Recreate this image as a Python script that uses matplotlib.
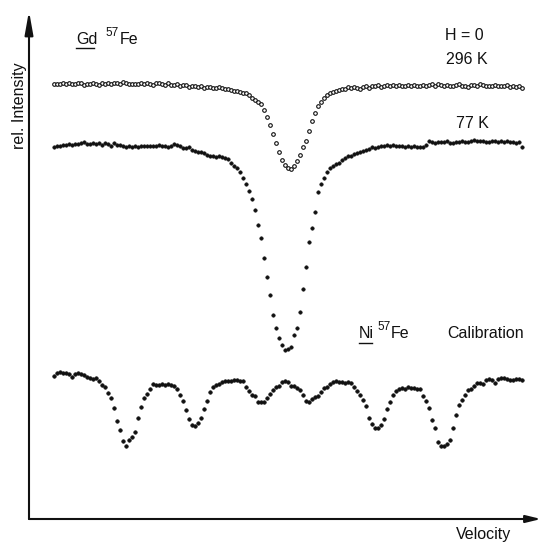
import numpy as np
import matplotlib
matplotlib.use("Agg")
import matplotlib.pyplot as plt
from matplotlib.lines import Line2D

plt.rcParams['font.family'] = ['Liberation Sans', 'DejaVu Sans']

# ---- data: absorption level (larger = deeper), one value per channel ----
gd_296K = [84, 84, 83.5, 83, 84, 82.5, 84, 84, 83, 82.5, 85, 84, 83.5, 83, 84, 84.5, 83, 84, 82.5, 84,
           83, 82.5, 83.5, 82, 83, 84, 83.5, 84, 84, 83, 84, 82.5, 84, 85, 83, 83, 84, 85, 83, 84.5,
           85, 84, 86, 85, 84.5, 86.5, 85.5, 86, 87, 85.5, 87.5, 87, 86.5, 88, 87.5, 87, 88, 89, 89, 89.5,
           90.5, 91, 92, 92.5, 93, 95, 97.5, 100, 102, 104, 110, 117, 125, 134, 143, 152, 160, 164.5, 167.5, 169,
           166, 161, 154.5, 147, 140.5, 131, 121, 112.5, 106, 101.5, 98, 95, 93, 91.5, 91, 90, 89, 88.5, 87, 87.5,
           86.5, 88, 88.5, 87, 86, 87.5, 85.5, 86, 85, 86.5, 86, 84.5, 86, 85, 86, 84.5, 85.5, 86, 84.5, 86,
           85, 86, 85.5, 84.5, 85.5, 84.5, 84, 85.5, 84, 85, 85.5, 84.5, 85.5, 86, 85, 84, 85.5, 86, 87, 85,
           84.5, 85.5, 84, 85, 86, 85.5, 86, 84.5, 86, 85.5, 86, 85, 86.5, 86, 87, 86, 87.5]

gd_77K = [147, 146, 145.5, 144.5, 145, 144, 145, 143.5, 144, 142.5, 142, 143.5, 144, 142.5, 144, 143, 144.5, 142.5, 144, 145.5,
          143, 145, 144.5, 146, 146.5, 146, 146.5, 146, 146.5, 145.5, 146, 146, 145.5, 145.5, 146, 145, 145.5, 146, 147, 145.5,
          144, 144.5, 146, 147.5, 148, 147, 149.5, 150.5, 152, 151.5, 153, 155, 156, 155.5, 156.5, 156, 157, 157.5, 159, 163,
          166, 168, 172, 178, 184, 191, 199, 210, 225, 238, 258, 277, 295, 315, 328, 338, 344.5, 350, 348.5, 347,
          335, 328, 312, 289, 267, 242, 228, 212, 192, 184, 178, 172, 168, 166, 164, 162.5, 159.5, 158, 156, 155.5,
          154, 153, 152, 151, 149.5, 148.5, 147, 147.5, 146.5, 145.5, 146, 145, 145.5, 145, 146, 145.5, 146, 146.5, 146, 146.5,
          146, 147, 146.5, 147, 145, 141, 142, 142.5, 142, 141.5, 142, 141, 142.5, 143, 141.5, 142, 141, 141.5, 142, 141,
          140, 140.5, 141, 140.5, 141.5, 142, 140.5, 141, 142, 141, 142, 140.5, 142, 141.5, 143, 142, 147]

ni_calibration = [376, 373, 372, 372.5, 373, 374, 376.5, 374, 373, 373.5, 374.5, 377, 378, 379, 378, 381, 384.5, 387, 393, 398,
                  408, 421, 430, 441, 446, 440, 437, 432, 418, 407, 398, 394, 389, 384, 385, 384.5, 384, 384.5, 384, 385,
                  386, 389, 395, 401, 410, 419, 425, 426, 423, 418, 409, 401, 392, 387, 385, 384, 381.5, 381, 381, 381,
                  380, 380, 380.5, 381, 387, 391, 394.5, 396, 402, 402, 401.5, 398, 394, 390, 387, 386, 382, 381, 382, 386,
                  386, 387.5, 390, 395, 401, 402, 399, 397, 396, 392, 388, 386.5, 384, 381.5, 381, 382, 382, 382.5, 382, 383,
                  387, 391, 395, 400, 406, 418, 424, 428, 428, 425, 419, 409, 402, 395, 391, 388.5, 388, 389, 387, 388,
                  388, 388.5, 389, 396, 401, 408, 420, 428, 442, 446, 446, 444, 440, 428, 415, 405, 400, 395, 390, 388.5,
                  386, 383, 383, 384, 380, 379, 380, 383, 378.5, 378, 378, 379, 379.5, 380, 379, 379, 380]

REF = 544.0   # converts absorption level into relative intensity (upwards)

W, H = 543, 544
fig = plt.figure(figsize=(W / 100, H / 100), dpi=100)
fig.patch.set_facecolor('white')

# axes frame: x-axis line at px 519, y-axis line at px 29, arrow tips at px 541 / 11
ax = fig.add_axes([29 / W, 1 - 519 / H, (541 - 29) / W, (519 - 11) / H])
ax.set_xlim(-25 / 3, 162.33)
ax.set_ylim(25, 533)
ax.axis('off')

ink = '#111111'

def plot_series(vals, **kw):
    v = np.asarray(vals, dtype=float)
    ch = np.arange(len(v))
    ax.plot(ch, REF - v, linestyle='none', clip_on=False, **kw)

plot_series(gd_296K, marker='o', markersize=2.6, markerfacecolor='white',
            markeredgecolor=ink, markeredgewidth=0.8)
plot_series(gd_77K, marker='o', markersize=2.5, markerfacecolor=ink,
            markeredgecolor=ink, markeredgewidth=0.4)
plot_series(ni_calibration, marker='o', markersize=2.6, markerfacecolor=ink,
            markeredgecolor=ink, markeredgewidth=0.4)

# axis arrows
ax.annotate('', xy=(0, 1), xytext=(0, 0), xycoords='axes fraction',
            arrowprops=dict(arrowstyle='-|>,head_length=1.4,head_width=0.25',
                            lw=1.5, color=ink, shrinkA=0, shrinkB=0))
ax.annotate('', xy=(1, 0), xytext=(0, 0), xycoords='axes fraction',
            arrowprops=dict(arrowstyle='-|>,head_length=0.9,head_width=0.22',
                            lw=1.5, color=ink, shrinkA=0, shrinkB=0))

def ftext(px, py, s, **kw):
    fig.text(px / W, 1 - py / H, s, color=ink, **kw)

fs = 11.5
ftext(20, 106, 'rel. Intensity', rotation=90, ha='center', va='center', fontsize=fs)
ftext(484, 535, 'Velocity', ha='center', va='center', fontsize=fs)

# Gd 57Fe
ftext(76, 39, 'Gd', ha='left', va='center', fontsize=fs)
ftext(105, 33, '57', ha='left', va='center', fontsize=8.5)
ftext(120, 39, 'Fe', ha='left', va='center', fontsize=fs)
fig.add_artist(Line2D([76 / W, 94 / W], [1 - 48 / H, 1 - 48 / H], color=ink, lw=1.0))

ftext(464, 36, 'H = 0', ha='center', va='center', fontsize=fs)
ftext(467, 60, '296 K', ha='center', va='center', fontsize=fs)
ftext(472, 123, '77 K', ha='center', va='center', fontsize=fs)

# Ni 57Fe  Calibration
ftext(359, 333, 'Ni', ha='left', va='center', fontsize=fs)
ftext(377, 327, '57', ha='left', va='center', fontsize=8.5)
ftext(391, 333, 'Fe', ha='left', va='center', fontsize=fs)
fig.add_artist(Line2D([359 / W, 372 / W], [1 - 343 / H, 1 - 343 / H], color=ink, lw=1.0))
ftext(447, 333, 'Calibration', ha='left', va='center', fontsize=fs)

fig.savefig('out.png', dpi=100, facecolor='white')
